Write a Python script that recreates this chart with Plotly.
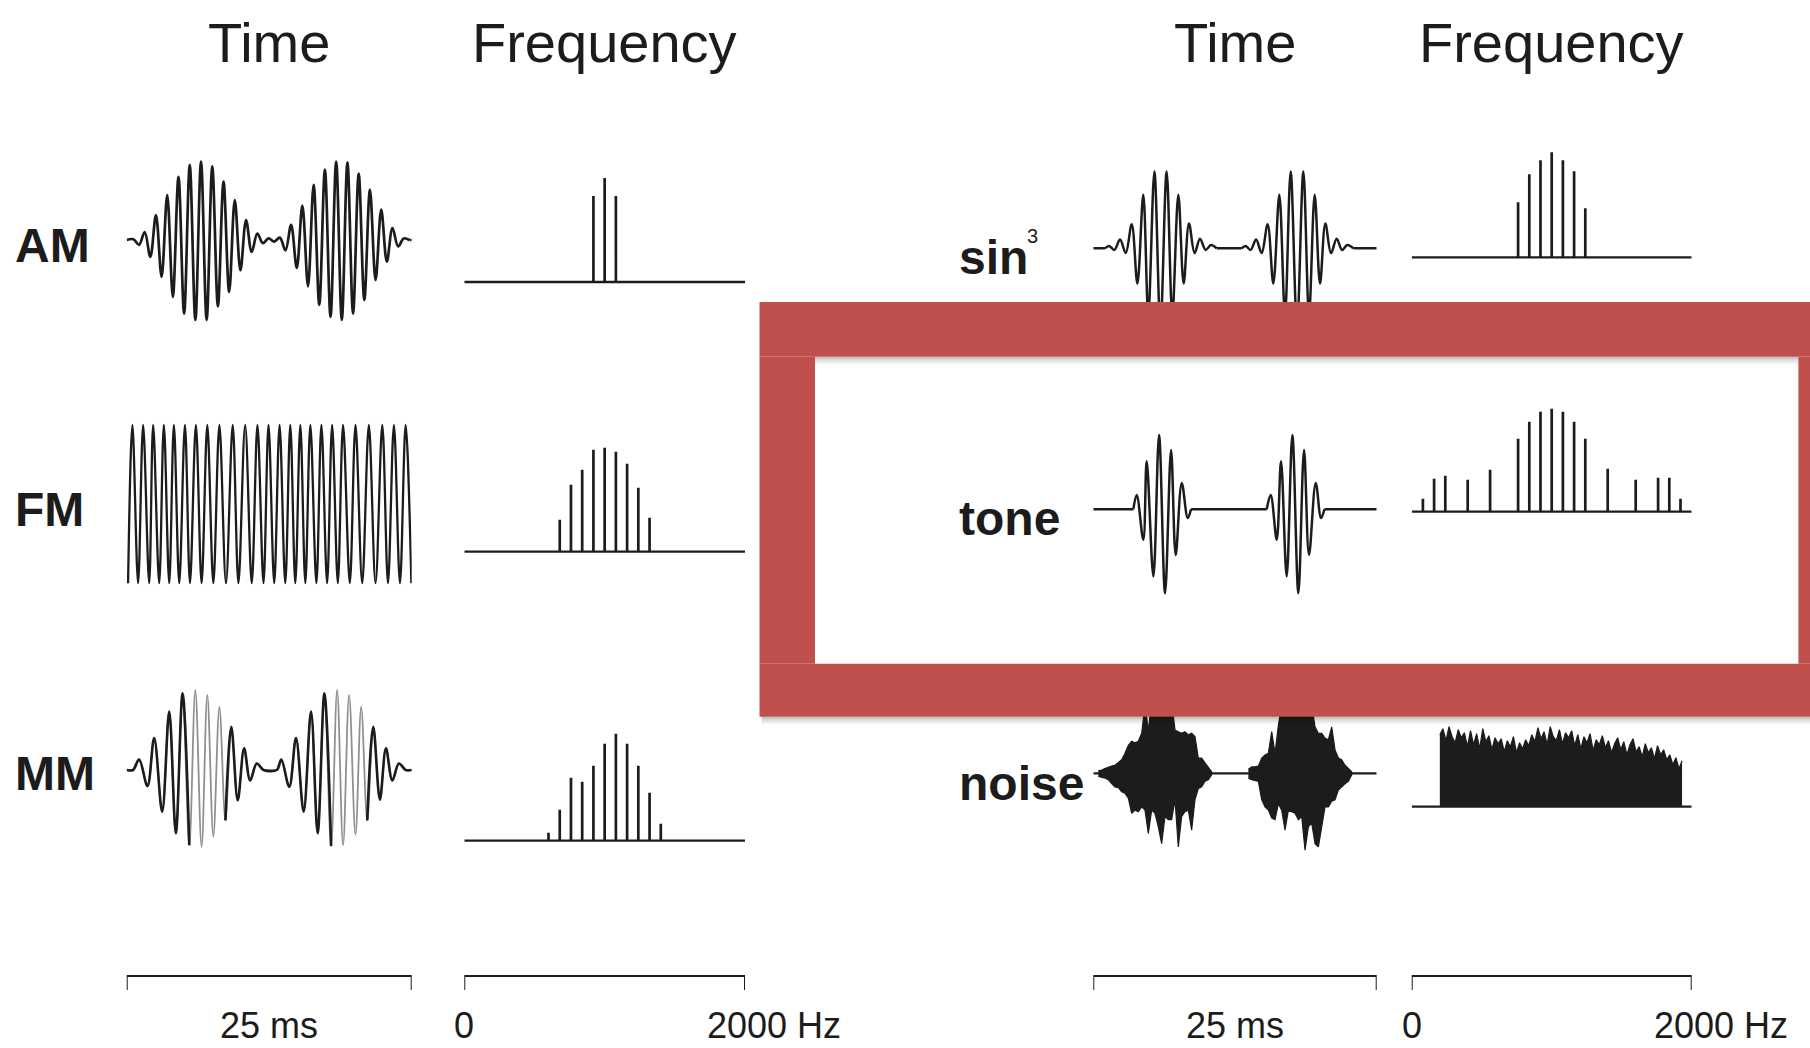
import plotly.graph_objects as go

W, H = 1810, 1048
INK = "#1c1c1c"
GRAY = "#909090"
RED = "#C0504D"
FONT = "Liberation Sans, Arial, Helvetica, sans-serif"

# ====================== DATA ======================
COL_TITLES = ["Time", "Frequency"]
LEFT_ROWS = ["AM", "FM", "MM"]
RIGHT_ROWS = ["sin", "tone", "noise"]
SIN_EXPONENT = "3"
TIME_SPAN_MS = [0, 25]
FREQ_SPAN_HZ = [0, 2000]
TIME_LABEL = "25 ms"
FREQ_LABELS = ["0", "2000 Hz"]

# --- AM (time: extrema amplitude in % of max, sampled every half carrier period)
AM_T0 = 0.59
AM_DT = 0.494
AM_AMP = [1, -6, 10, -21, 31, -46, 56, -71, 79, -92, 94, -100, 98, -100, 92, -83,
          73, -65, 50, -38, 25, -15, 8, -4, 2, -2, 3, -13, 19, -35, 43, -58, 69,
          -81, 88, -96, 98, -100, 97, -92, 83, -75, 63, -50, 38, -27, 15, -8, 2, 0]
AM_SPEC_F = [920, 1000, 1080]
AM_SPEC_A = [86, 104, 86]

# --- FM (time of peaks / troughs in ms, constant amplitude)
FM_PEAK_T = [0.50, 1.44, 2.32, 3.26, 4.14, 5.11, 6.07, 7.07, 8.13, 9.30, 10.39, 11.47,
             12.44, 13.41, 14.35, 15.23, 16.11, 17.08, 18.02, 18.98, 20.07, 21.24,
             22.42, 23.44, 24.47]
FM_TROUGH_T = [0.12, 1.00, 1.97, 2.85, 3.73, 4.61, 5.55, 6.57, 7.60, 8.71, 9.80, 10.97,
               12.00, 12.94, 13.91, 14.79, 15.67, 16.64, 17.58, 18.52, 19.57, 20.66,
               21.83, 22.92, 23.97, 24.97]
FM_AMP = 99
FM_SPEC_F = [680, 760, 840, 920, 1000, 1080, 1160, 1240, 1320]
FM_SPEC_A = [32, 67, 82, 102, 104, 100, 88, 64, 34]

# --- MM
MM_T = [0.0, 0.56, 1.09, 1.82, 2.41, 3.11, 3.73, 4.31, 4.90, 5.49, 6.02, 6.57, 7.07,
        7.60, 8.13, 8.66, 9.18, 9.74, 10.30, 10.83, 11.41, 12.00, 13.17, 13.56, 14.26,
        14.85, 15.52, 16.17, 16.75, 17.34, 17.93, 18.46, 18.98, 19.51, 20.07, 20.57,
        21.10, 21.63, 22.21, 22.74, 23.30, 23.88, 24.47, 25.0]
MM_A = [0, 0, 13, -20, 40, -52, 73, -79, 96, -94, 100, -96, 94, -83, 79, -63, 54, -38,
        27, -13, 8, 0, 0, 13, -21, 40, -52, 73, -79, 96, -95, 100, -94, 94, -81, 79,
        -63, 54, -37, 27, -13, 8, 0, 0]
MM_SPEC_F = [600, 680, 760, 840, 920, 1000, 1080, 1160, 1240, 1320, 1400]
MM_SPEC_A = [8, 31, 63, 59, 75, 97, 107, 97, 75, 48, 17]

# --- sin^3
SIN_T = [0.0, 1.03, 1.39, 1.86, 2.36, 2.86, 3.39, 3.89, 4.41, 4.85, 5.39, 5.92, 6.47,
         6.97, 7.50, 7.97, 8.44, 8.94, 9.41, 9.91, 10.38, 10.88, 13.09, 13.44, 13.88,
         14.36, 14.85, 15.38, 15.88, 16.41, 16.91, 17.41, 17.97, 18.53, 19.03, 19.53,
         20.00, 20.47, 20.97, 21.47, 21.94, 22.41, 22.94, 25.0]
SIN_A = [0, 0, 3, -2, 11, -6, 30, -44, 67, -83, 96, -98, 96, -83, 67, -44, 31, -6, 12,
         -2, 4, 0, 0, 3, -2, 11, -6, 30, -44, 67, -83, 96, -98, 96, -83, 67, -44, 31,
         -6, 12, -2, 4, 0, 0]
SIN_SPEC_F = [760, 840, 920, 1000, 1080, 1160, 1240]
SIN_SPEC_A = [55, 83, 97, 105, 97, 86, 49]

# --- tone
TONE_T = [0.0, 3.53, 3.83, 4.41, 4.71, 5.30, 5.80, 6.33, 6.86, 7.27, 7.80, 8.33, 8.62,
          15.30, 15.65, 16.18, 16.56, 17.06, 17.56, 18.09, 18.59, 19.03, 19.62, 20.09,
          20.39, 25.0]
TONE_A = [0, 0, 18, -38, 60, -84, 93, -105, 74, -57, 33, -11, 0, 0, 18, -38, 60, -84,
          93, -105, 74, -57, 33, -11, 0, 0]
TONE_SPEC_F = [80, 160, 240, 400, 560, 760, 840, 920, 1000, 1080, 1160, 1240, 1400,
               1600, 1760, 1840, 1920]
TONE_SPEC_A = [13, 33, 36, 32, 42, 73, 90, 100, 103, 100, 90, 73, 43, 32, 34, 34, 13]

# --- noise (time: upper / lower envelope of the two bursts, % of max)
NOISE_DT = 0.294
NOISE_B1_T0 = 0.444
NOISE_B1_UP = [3, 4, 6, 8, 9, 10, 13, 17, 25, 35, 40, 38, 40, 50, 85, 54, 88, 90, 86,
               92, 88, 85, 90, 54, 52, 50, 52, 48, 50, 46, 19, 19, 13, 8, 2]
NOISE_B1_LO = [-4, -5, -6, -8, -13, -17, -18, -23, -25, -31, -50, -46, -48, -42, -46,
               -75, -46, -50, -67, -88, -54, -58, -58, -33, -92, -54, -48, -46, -71,
               -33, -19, -17, -10, -8, -2]
NOISE_B2_T0 = 13.68
NOISE_B2_UP = [5, 8, 8, 9, 19, 23, 25, 52, 25, 60, 85, 88, 90, 86, 92, 88, 85, 90, 87,
               85, 58, 50, 50, 44, 42, 58, 29, 19, 17, 10, 6, 2]
NOISE_B2_LO = [-6, -8, -9, -10, -33, -42, -46, -56, -58, -38, -46, -71, -46, -48, -50,
               -58, -54, -96, -67, -62, -88, -92, -67, -42, -42, -35, -33, -21, -17,
               -13, -10, -2]
NOISE_SPEC_F0 = 201
NOISE_SPEC_DF = 21.9
NOISE_SPEC_A = [72, 78, 66, 80, 70, 64, 77, 69, 74,
                60, 76, 62, 73, 58, 78, 65, 71, 57, 69, 63,
                68, 55, 66, 60, 70, 54, 64, 58, 67, 61, 72,
                65, 79, 68, 75, 62, 80, 70, 66, 77, 63, 74, 69, 76,
                61, 72, 58, 70, 64, 73, 56, 67, 62, 71, 59,
                66, 54, 63, 69, 57, 65, 52, 62, 68, 55, 60,
                50, 63, 54, 59, 48, 61, 52, 57, 47,
                52, 42, 49, 38, 46]

# ====================== LAYOUT (pixel boxes) ======================
LEFT_T = (126.7, 411.7)
LEFT_F = (464.3, 745.0)
RIGHT_T = (1093.3, 1376.7)
RIGHT_F = (1411.7, 1691.7)
T_RANGE = [-125, 125]      # 0.8 px per unit over 200 px
F_RANGE = [-6, 124]        # 1 px per unit over 130 px

ROW_TIME_BASE = {"AM": 240, "FM": 504, "MM": 770, "sin": 248.3, "tone": 509.3, "noise": 773.3}
ROW_FREQ_BASE = {"AM": 282, "FM": 551.7, "MM": 840.7, "sin": 257.3, "tone": 511.7, "noise": 806.7}

fig = go.Figure()
_axis_n = [0]
axis_layout = {}


def px_x(p):
    return p / W


def px_y(p):
    return 1 - p / H


def add_axes(xpx, ytop, ybot, xr, yr):
    _axis_n[0] += 1
    n = _axis_n[0]
    s = "" if n == 1 else str(n)
    axis_layout["xaxis" + s] = dict(domain=[px_x(xpx[0]), px_x(xpx[1])], range=xr,
                                    visible=False, fixedrange=True, anchor="y" + s)
    axis_layout["yaxis" + s] = dict(domain=[px_y(ybot), px_y(ytop)], range=yr,
                                    visible=False, fixedrange=True, anchor="x" + s)
    return "x" + s, "y" + s


def time_axes(xpx, base):
    return add_axes(xpx, base - 100, base + 100, TIME_SPAN_MS, T_RANGE)


def freq_axes(xpx, base):
    return add_axes(xpx, base - 124, base + 6, FREQ_SPAN_HZ, F_RANGE)


def line_trace(t, a, ax, color, width, shape):
    fig.add_trace(go.Scatter(x=t, y=a, mode="lines", xaxis=ax[0], yaxis=ax[1],
                             line=dict(color=color, width=width, shape=shape, smoothing=1.0),
                             hoverinfo="skip", showlegend=False))


def wave(t, a, ax, color=INK, width=2.6):
    """Smooth curve through the extrema; flat (zero) stretches are drawn straight."""
    t, a = list(t), list(a)
    pieces, cur = [], []
    for i in range(len(t)):
        if a[i] == 0:
            if cur:
                cur.append(i)
                pieces.append(cur)
            cur = [i]
        else:
            cur.append(i)
    if len(cur) > 1:
        pieces.append(cur)
    for p in pieces:
        shape = "linear" if all(a[k] == 0 for k in p) else "spline"
        line_trace([t[k] for k in p], [a[k] for k in p], ax, color, width, shape)


def spectrum(f, h, ax):
    line_trace(FREQ_SPAN_HZ, [0, 0], ax, INK, 2.3, "linear")
    xs, ys = [], []
    for fi, hi in zip(f, h):
        xs += [fi, fi, None]
        ys += [0, hi, None]
    line_trace(xs, ys, ax, INK, 2.7, "linear")


def with_ends(t, a):
    return [TIME_SPAN_MS[0]] + list(t) + [TIME_SPAN_MS[1]], [0] + list(a) + [0]


# ---- AM
ax = time_axes(LEFT_T, ROW_TIME_BASE["AM"])
am_t = [AM_T0 + AM_DT * i for i in range(len(AM_AMP))]
wave(*with_ends(am_t, AM_AMP), ax, width=2.7)
spectrum(AM_SPEC_F, AM_SPEC_A, freq_axes(LEFT_F, ROW_FREQ_BASE["AM"]))

# ---- FM
ax = time_axes(LEFT_T, ROW_TIME_BASE["FM"])
fm_pts = sorted([(t, FM_AMP) for t in FM_PEAK_T] + [(t, -FM_AMP) for t in FM_TROUGH_T])
line_trace([p[0] for p in fm_pts], [p[1] for p in fm_pts], ax, INK, 2.3, "spline")
spectrum(FM_SPEC_F, FM_SPEC_A, freq_axes(LEFT_F, ROW_FREQ_BASE["FM"]))

# ---- MM (lighter strokes in the second half of each burst)
ax = time_axes(LEFT_T, ROW_TIME_BASE["MM"])
wave(MM_T, MM_A, ax, color=GRAY, width=1.8)
MM_DARK_SEGMENTS = [(0, 10), (15, 31), (36, 44)]
for i0, i1 in MM_DARK_SEGMENTS:
    line_trace(MM_T[i0:i1], MM_A[i0:i1], ax, INK, 2.6, "spline")
spectrum(MM_SPEC_F, MM_SPEC_A, freq_axes(LEFT_F, ROW_FREQ_BASE["MM"]))

# ---- sin^3
ax = time_axes(RIGHT_T, ROW_TIME_BASE["sin"])
wave(SIN_T, SIN_A, ax, width=2.5)
spectrum(SIN_SPEC_F, SIN_SPEC_A, freq_axes(RIGHT_F, ROW_FREQ_BASE["sin"]))

# ---- tone
ax = time_axes(RIGHT_T, ROW_TIME_BASE["tone"])
wave(TONE_T, TONE_A, ax, width=2.5)
spectrum(TONE_SPEC_F, TONE_SPEC_A, freq_axes(RIGHT_F, ROW_FREQ_BASE["tone"]))

# ---- noise
ax = time_axes(RIGHT_T, ROW_TIME_BASE["noise"])
line_trace(TIME_SPAN_MS, [0, 0], ax, INK, 2.3, "linear")
px_, py_ = [], []
for t0, up, lo in [(NOISE_B1_T0, NOISE_B1_UP, NOISE_B1_LO), (NOISE_B2_T0, NOISE_B2_UP, NOISE_B2_LO)]:
    tt = [t0 + NOISE_DT * i for i in range(len(up))]
    px_ += tt + tt[::-1] + [None]
    py_ += list(up) + list(lo)[::-1] + [None]
fig.add_trace(go.Scatter(x=px_, y=py_, mode="lines", fill="toself", fillcolor=INK,
                         xaxis=ax[0], yaxis=ax[1], line=dict(color=INK, width=1.2),
                         hoverinfo="skip", showlegend=False))
ax = freq_axes(RIGHT_F, ROW_FREQ_BASE["noise"])
line_trace(FREQ_SPAN_HZ, [0, 0], ax, INK, 2.3, "linear")
nf = [NOISE_SPEC_F0 + NOISE_SPEC_DF * i for i in range(len(NOISE_SPEC_A))]
fig.add_trace(go.Scatter(x=nf, y=NOISE_SPEC_A, mode="lines", fill="tozeroy", fillcolor=INK,
                         xaxis=ax[0], yaxis=ax[1], line=dict(color=INK, width=1.2),
                         hoverinfo="skip", showlegend=False))

# ---- scale bars
annotations = []
SCALE_Y_LABEL = 1025.5
lab_font = dict(family=FONT, size=36, color=INK)
for xpx, span, kind in [(LEFT_T, TIME_SPAN_MS, "t"), (LEFT_F, FREQ_SPAN_HZ, "f"),
                        (RIGHT_T, TIME_SPAN_MS, "t"), (RIGHT_F, FREQ_SPAN_HZ, "f")]:
    ax = add_axes(xpx, 970, 996, span, [-20, 6])
    line_trace([span[0], span[0], span[1], span[1]], [-14, 0, 0, -14], ax, INK, 2, "linear")
    if kind == "t":
        annotations.append(dict(text=TIME_LABEL, x=(span[0] + span[1]) / 2, xref=ax[0],
                                y=px_y(SCALE_Y_LABEL), yref="paper", xanchor="center",
                                yanchor="middle", showarrow=False, font=lab_font))
    else:
        annotations.append(dict(text=FREQ_LABELS[0], x=span[0], xref=ax[0],
                                y=px_y(SCALE_Y_LABEL), yref="paper", xanchor="center",
                                yanchor="middle", showarrow=False, font=lab_font))
        annotations.append(dict(text=FREQ_LABELS[1], x=span[1], xref=ax[0], xshift=-40,
                                y=px_y(SCALE_Y_LABEL), yref="paper", xanchor="left",
                                yanchor="middle", showarrow=False, font=lab_font))

# ---- column titles
title_font = dict(family=FONT, size=56, color=INK)
for xpx in [LEFT_T, RIGHT_T]:
    annotations.append(dict(text=COL_TITLES[0], x=px_x((xpx[0] + xpx[1]) / 2), xref="paper",
                            y=px_y(43), yref="paper", xanchor="center", yanchor="middle",
                            showarrow=False, font=title_font))
for xpx in [LEFT_F, RIGHT_F]:
    annotations.append(dict(text=COL_TITLES[1], x=px_x((xpx[0] + xpx[1]) / 2), xref="paper",
                            y=px_y(43), yref="paper", xanchor="center", yanchor="middle",
                            showarrow=False, font=title_font))

# ---- row labels
row_font = dict(family=FONT, size=48, color=INK, weight="bold")
for name, ymid in zip(LEFT_ROWS, [245, 509, 773]):
    annotations.append(dict(text=name, x=px_x(13), xref="paper", y=px_y(ymid), yref="paper",
                            xanchor="left", yanchor="middle", showarrow=False, font=row_font))
for name, ymid in zip(RIGHT_ROWS, [257, 518, 783]):
    annotations.append(dict(text=name, x=px_x(957), xref="paper", y=px_y(ymid), yref="paper",
                            xanchor="left", yanchor="middle", showarrow=False, font=row_font))
annotations.append(dict(text=SIN_EXPONENT, x=px_x(1025), xref="paper", y=px_y(236), yref="paper",
                        xanchor="left", yanchor="middle", showarrow=False,
                        font=dict(family=FONT, size=20, color=INK)))

# ---- red highlight frame (drawn over the plots)
shapes = []
OUT_L, OUT_T, OUT_B = 759.5, 302.0, 716.7
IN_L, IN_R, IN_T, IN_B = 815.0, 1798.4, 356.7, 663.7
RIGHT_EDGE = 1830
for (x0, y0, x1, y1) in [(OUT_L, OUT_T, RIGHT_EDGE, IN_T), (OUT_L, IN_B, RIGHT_EDGE, OUT_B),
                         (OUT_L, IN_T, IN_L, IN_B), (IN_R, IN_T, RIGHT_EDGE, IN_B)]:
    shapes.append(dict(type="rect", xref="paper", yref="paper", x0=px_x(x0), x1=px_x(x1),
                       y0=px_y(y1), y1=px_y(y0), fillcolor=RED, line=dict(width=0), layer="above"))
# soft drop shadow below the frame
for k, op in enumerate([0.22, 0.12, 0.05]):
    shapes.append(dict(type="rect", xref="paper", yref="paper", x0=px_x(OUT_L + 2), x1=px_x(RIGHT_EDGE),
                       y0=px_y(OUT_B + 2.5 * (k + 1)), y1=px_y(OUT_B + 2.5 * k),
                       fillcolor=f"rgba(0,0,0,{op})", line=dict(width=0), layer="above"))
    shapes.append(dict(type="rect", xref="paper", yref="paper", x0=px_x(IN_L), x1=px_x(IN_R),
                       y0=px_y(IN_T + 2.5 * (k + 1)), y1=px_y(IN_T + 2.5 * k),
                       fillcolor=f"rgba(0,0,0,{op})", line=dict(width=0), layer="above"))

fig.update_layout(width=W, height=H, margin=dict(l=0, r=0, t=0, b=0),
                  paper_bgcolor="white", plot_bgcolor="rgba(0,0,0,0)",
                  showlegend=False, annotations=annotations, shapes=shapes, **axis_layout)

fig.write_html("out.html", config={"displayModeBar": False},
               post_script="document.body.style.margin='0';document.body.style.overflow='hidden';")
